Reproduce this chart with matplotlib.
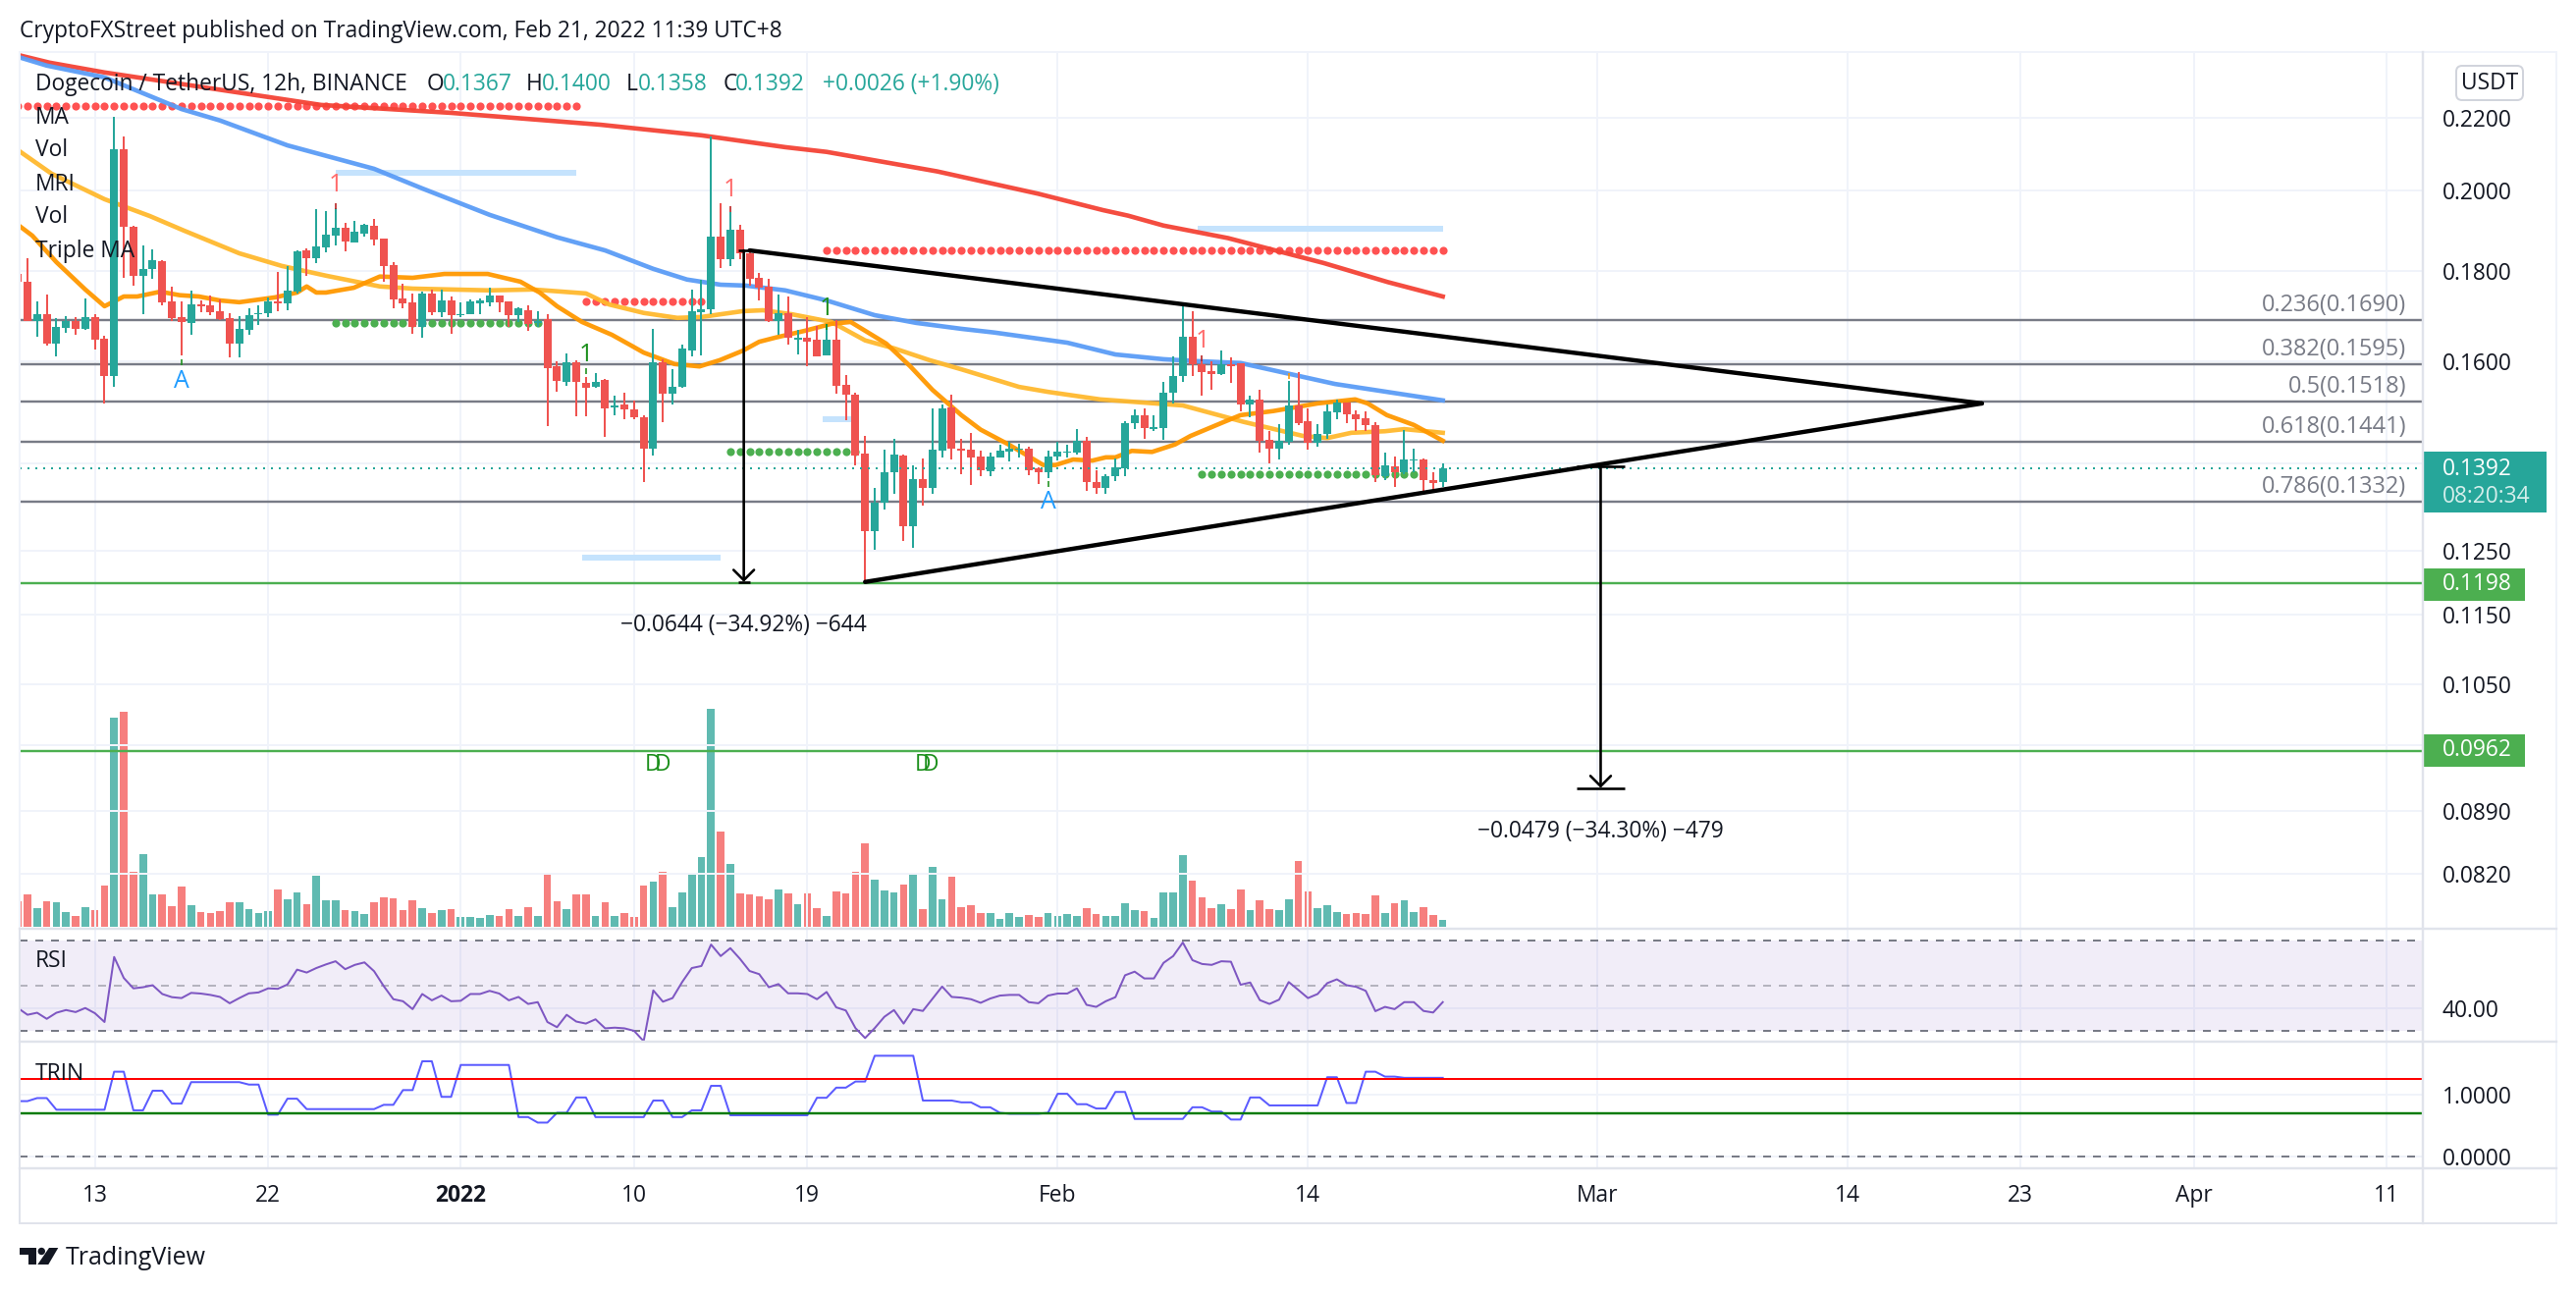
#!/usr/bin/env python3
"""Dogecoin / TetherUS 12h TradingView snapshot, redrawn from values read off the picture."""

from __future__ import annotations

import matplotlib

matplotlib.use("Agg")
import matplotlib.pyplot as plt
import numpy as np
from matplotlib.patches import Circle, FancyBboxPatch, Polygon, Rectangle
from matplotlib.ticker import NullLocator

W, H = 2624, 1316
PX = 0.72  # one pixel in points at dpi=100

UP = "#26a69a"
DOWN = "#ef5350"
INK = "#131722"
GREY = "#787b86"
GRID = "#f0f3fa"
EDGE = "#e0e3eb"

# 12h bars, first bar is clipped by the left edge of the pane
opens = [
    .1795, .1775, .1688, .1702, .1638, .1673, .1688, .1670, .1696, .1649,
    .1571, .2110, .1908, .1790, .1805, .1825, .1731, .1695, .1682, .1725,
    .1721, .1708, .1693, .1638, .1668, .1703, .1704, .1731, .1726, .1753,
    .1850, .1832, .1857, .1885, .1906, .1870, .1892, .1910, .1878, .1814,
    .1738, .1728, .1674, .1749, .1706, .1733, .1701, .1702, .1727, .1729,
    .1744, .1730, .1701, .1712, .1682, .1691, .1590, .1559, .1599, .1557,
    .1549, .1562, .1507, .1512, .1503, .1488, .1429, .1598, .1535, .1548,
    .1623, .1707, .1713, .1883, .1830, .1900, .1843, .1784, .1764, .1686,
    .1705, .1647, .1650, .1646, .1614, .1647, .1552, .1533, .1419, .1283,
    .1331, .1384, .1415, .1291, .1372, .1356, .1425, .1507, .1429, .1426,
    .1413, .1386, .1412, .1423, .1427, .1428, .1392, .1384, .1414, .1420,
    .1421, .1442, .1368, .1357, .1378, .1392, .1477, .1491, .1466, .1467,
    .1537, .1571, .1652, .1594, .1580, .1574, .1594, .1596, .1513, .1522,
    .1444, .1429, .1441, .1510, .1480, .1440, .1455, .1498, .1517, .1493,
    .1486, .1473, .1378, .1395, .1384, .1406, .1408, .1370, .1367,
]
highs = [
    .1800, .1831, .1730, .1747, .1694, .1698, .1695, .1738, .1702, .1655,
    .2203, .2146, .1911, .1862, .1852, .1826, .1765, .1731, .1756, .1733,
    .1744, .1735, .1705, .1698, .1715, .1721, .1739, .1798, .1813, .1850,
    .1855, .1952, .1947, .1955, .1917, .1922, .1915, .1927, .1878, .1821,
    .1771, .1749, .1753, .1758, .1758, .1741, .1728, .1735, .1738, .1762,
    .1744, .1730, .1718, .1722, .1708, .1703, .1600, .1618, .1602, .1569,
    .1577, .1565, .1530, .1537, .1520, .1492, .1670, .1605, .1584, .1636,
    .1758, .1780, .2146, .1968, .1946, .1913, .1846, .1796, .1783, .1746,
    .1743, .1668, .1695, .1677, .1681, .1690, .1573, .1536, .1452, .1357,
    .1426, .1446, .1417, .1397, .1410, .1505, .1513, .1532, .1446, .1457,
    .1425, .1420, .1435, .1441, .1437, .1431, .1393, .1424, .1441, .1435,
    .1465, .1450, .1389, .1381, .1410, .1481, .1503, .1506, .1491, .1558,
    .1610, .1729, .1708, .1600, .1600, .1623, .1608, .1597, .1530, .1542,
    .1461, .1475, .1560, .1578, .1506, .1475, .1513, .1522, .1517, .1501,
    .1499, .1478, .1420, .1413, .1464, .1428, .1410, .1385, .1400,
]
lows = [
    .1770, .1687, .1653, .1633, .1612, .1662, .1656, .1668, .1625, .1514,
    .1548, .1784, .1766, .1702, .1783, .1722, .1688, .1614, .1657, .1707,
    .1701, .1690, .1609, .1609, .1656, .1679, .1696, .1709, .1711, .1749,
    .1790, .1820, .1846, .1862, .1848, .1870, .1884, .1862, .1775, .1715,
    .1715, .1659, .1651, .1699, .1696, .1659, .1696, .1702, .1703, .1720,
    .1706, .1674, .1684, .1665, .1674, .1471, .1539, .1551, .1490, .1489,
    .1546, .1451, .1491, .1485, .1484, .1368, .1416, .1479, .1512, .1547,
    .1612, .1614, .1703, .1807, .1813, .1830, .1767, .1734, .1685, .1656,
    .1635, .1615, .1590, .1610, .1614, .1535, .1483, .1398, .1199, .1251,
    .1319, .1347, .1266, .1255, .1325, .1347, .1412, .1408, .1382, .1362,
    .1378, .1377, .1411, .1404, .1412, .1380, .1363, .1375, .1407, .1412,
    .1417, .1351, .1347, .1346, .1369, .1377, .1466, .1447, .1462, .1445,
    .1514, .1559, .1571, .1530, .1542, .1573, .1556, .1500, .1488, .1420,
    .1401, .1409, .1436, .1472, .1427, .1431, .1447, .1485, .1477, .1462,
    .1461, .1368, .1371, .1359, .1382, .1385, .1351, .1352, .1358,
]
closes = [
    .1775, .1688, .1702, .1638, .1674, .1688, .1670, .1695, .1647, .1571,
    .2110, .1907, .1790, .1805, .1826, .1728, .1694, .1684, .1725, .1720,
    .1706, .1691, .1638, .1669, .1701, .1705, .1731, .1727, .1755, .1848,
    .1832, .1860, .1888, .1906, .1872, .1895, .1912, .1876, .1813, .1736,
    .1727, .1674, .1749, .1706, .1732, .1700, .1703, .1730, .1732, .1744,
    .1729, .1701, .1715, .1680, .1688, .1586, .1561, .1598, .1559, .1547,
    .1559, .1506, .1510, .1503, .1487, .1429, .1598, .1535, .1549, .1627,
    .1708, .1714, .1883, .1830, .1900, .1842, .1783, .1763, .1688, .1705,
    .1650, .1650, .1643, .1611, .1646, .1550, .1533, .1415, .1283, .1331,
    .1385, .1417, .1291, .1372, .1356, .1426, .1506, .1429, .1425, .1412,
    .1388, .1413, .1424, .1429, .1429, .1389, .1384, .1413, .1422, .1423,
    .1442, .1368, .1357, .1378, .1393, .1476, .1491, .1467, .1469, .1537,
    .1571, .1652, .1594, .1578, .1575, .1595, .1590, .1512, .1522, .1442,
    .1429, .1442, .1510, .1477, .1440, .1455, .1499, .1517, .1493, .1485,
    .1472, .1379, .1398, .1384, .1408, .1408, .1370, .1365, .1392,
]

volumes = [
    64, 81, 47, 64, 62, 37, 27, 49, 42, 104,
    525, 540, 138, 183, 81, 81, 52, 101, 54, 37,
    35, 40, 62, 62, 45, 35, 40, 94, 69, 86,
    57, 128, 67, 67, 42, 40, 32, 62, 74, 72,
    42, 67, 47, 35, 42, 45, 25, 25, 22, 30,
    27, 45, 27, 49, 27, 133, 64, 45, 81, 81,
    27, 62, 27, 35, 25, 104, 114, 138, 49, 86,
    136, 175, 547, 239, 158, 84, 81, 77, 69, 94,
    84, 57, 84, 47, 27, 89, 84, 138, 210, 118,
    91, 86, 106, 131, 45, 151, 69, 126, 49, 54,
    35, 35, 20, 35, 25, 30, 25, 35, 27, 32,
    27, 47, 32, 27, 27, 59, 42, 40, 22, 86,
    86, 180, 116, 74, 47, 57, 45, 94, 42, 67,
    45, 42, 69, 165, 89, 47, 54, 37, 32, 35,
    32, 79, 35, 59, 67, 37, 49, 30, 17,
]

rsi = [
    40.1, 37.1, 38.0, 35.3, 38.0, 39.2, 38.3, 40.1, 37.8, 33.9,
    62.7, 53.4, 48.8, 49.3, 50.2, 46.3, 44.9, 44.5, 46.8, 46.5,
    45.9, 45.0, 42.2, 44.5, 46.6, 47.0, 48.8, 48.6, 50.5, 57.1,
    55.8, 57.8, 59.4, 60.8, 57.3, 59.2, 60.3, 56.4, 49.8, 44.0,
    43.1, 39.6, 46.3, 43.5, 45.6, 43.1, 43.3, 46.3, 46.3, 47.7,
    46.5, 43.5, 45.0, 41.9, 42.7, 33.9, 31.6, 37.1, 34.1, 33.2,
    35.1, 31.1, 31.4, 31.1, 30.0, 25.4, 47.9, 42.9, 44.5, 51.6,
    57.8, 58.7, 68.2, 63.1, 66.6, 61.9, 56.5, 55.1, 49.3, 50.7,
    46.6, 46.6, 46.3, 44.0, 47.2, 40.4, 39.0, 31.2, 26.8, 31.2,
    36.2, 39.2, 33.2, 39.6, 38.8, 44.2, 49.6, 45.0, 44.7, 44.0,
    42.4, 44.3, 45.6, 45.9, 45.9, 42.7, 42.2, 45.6, 46.5, 46.5,
    48.8, 41.5, 40.6, 43.1, 44.9, 54.6, 56.2, 53.2, 53.2, 60.1,
    63.1, 69.1, 61.3, 59.6, 59.2, 60.8, 60.6, 50.4, 51.4, 43.6,
    41.9, 43.8, 51.6, 48.1, 44.5, 46.3, 51.1, 52.8, 50.2, 49.5,
    47.7, 38.7, 40.6, 39.6, 42.7, 42.7, 38.8, 38.1, 42.7,
]

trin = [
    .90, .90, .95, .95, .76, .76, .76, .76, .76, .76,
    1.38, 1.38, .75, .75, 1.07, 1.07, .86, .86, 1.21, 1.21,
    1.21, 1.21, 1.21, 1.21, 1.17, 1.17, .68, .68, .94, .94,
    .77, .77, .77, .77, .77, .77, .77, .77, .84, .84,
    1.08, 1.08, 1.55, 1.55, .97, .97, 1.49, 1.49, 1.49, 1.49,
    1.49, 1.49, .64, .64, .55, .55, .71, .71, .96, .96,
    .64, .64, .64, .64, .64, .64, .91, .91, .64, .64,
    .75, .75, 1.15, 1.15, .67, .67, .67, .67, .67, .67,
    .67, .67, .67, .955, .955, 1.12, 1.12, 1.22, 1.22, 1.64,
    1.64, 1.64, 1.64, 1.64, .91, .91, .91, .91, .88, .88,
    .80, .80, .71, .695, .695, .695, .695, .71, 1.02, 1.02,
    .85, .85, .78, .78, 1.05, 1.05, .61, .61, .61, .61,
    .61, .61, .80, .80, .73, .73, .60, .60, .96, .96,
    .83, .83, .83, .83, .83, .83, 1.29, 1.29, .87, .87,
    1.38, 1.38, 1.30, 1.30, 1.28, 1.28, 1.28, 1.28, 1.28,
]

# moving averages, vertices as (bar, price)
ma200_bar = [-1, 2.3, 8, 30.5, 44, 59.5, 70, 78.7, 83, 94.5, 105, 111.7, 114.3, 118, 124.7, 134.6, 141.3, 147]
ma200 = [.2388, .2364, .2334, .2237, .2214, .2180, .2150, .2117, .2104, .2051, .1992, .1950, .1936, .1911, .1880, .1820, .1775, .1742]
ma100_bar = [-1, 2, 8, 16, 20, 27, 36, 41, 48, 55, 60, 65, 68.5, 72, 74.6, 78.7, 83, 88, 92.3, 97, 100.4, 108, 113, 118, 121.5, 126, 135.8, 147]
ma100 = [.2382, .2355, .2319, .2225, .2192, .2122, .2058, .2006, .1938, .1882, .1850, .1806, .1781, .1769, .1767, .1756, .1733, .1700, .1683, .1670, .1662, .1640, .1615, .1605, .1601, .1597, .1554, .1521]
ma50_bar = [-1, 2.5, 8, 12.7, 16.2, 22, 26.4, 31, 36.6, 40, 48, 52.5, 58, 60.4, 64, 67.5, 70, 74.3, 76.4, 79.4, 83.5, 87, 90, 93.7, 97, 103, 106, 111.4, 120, 126.3, 132.5, 135, 137.5, 141, 143, 147]
ma50 = [.2109, .2045, .1978, .1935, .1899, .1843, .1813, .1790, .1765, .1760, .1756, .1758, .1749, .1724, .1705, .1694, .1696, .1709, .1711, .1702, .1685, .1645, .1628, .1603, .1584, .1548, .1538, .1523, .1511, .1479, .1452, .1448, .1458, .1461, .1465, .1458]
ma20_bar = [-1, 0.5, 3, 6, 8, 10, 11.4, 13.8, 15.8, 17.8, 20, 22, 25.7, 28, 29, 30, 31, 33.9, 36.6, 40, 43.3, 47.8, 51.2, 53.2, 55, 57.6, 60.7, 62.7, 64, 67.2, 69.8, 71.9, 74.3, 76, 77.7, 80.8, 83.5, 85.5, 89.2, 91.7, 94, 97, 99, 101.9, 105.5, 106.8, 108.6, 110.6, 112, 113, 114.7, 116.8, 119.2, 120.8, 124.3, 126, 129.4, 134, 137.9, 139.2, 141.2, 144, 147]
ma20 = [.1913, .1886, .1822, .1758, .1720, .1742, .1742, .1753, .1745, .1742, .1733, .1729, .1740, .1751, .1765, .1751, .1751, .1762, .1788, .1785, .1794, .1794, .1776, .1751, .1720, .1685, .1657, .1634, .1619, .1595, .1590, .1603, .1623, .1642, .1651, .1666, .1681, .1685, .1638, .1590, .1542, .1492, .1464, .1436, .1398, .1398, .1408, .1406, .1412, .1412, .1424, .1422, .1436, .1452, .1479, .1492, .1500, .1515, .1523, .1515, .1492, .1473, .1443]

# fibonacci retracement
fib_ratio = ["0.236", "0.382", "0.5", "0.618", "0.786"]
fib_price = [.1690, .1595, .1518, .1441, .1332]
support_price = [.1198, .0962]
last_price = .1392

# triangle and measure tools
upper_trend_bar = [75, 203]
upper_trend_price = [.1850, .1515]
lower_trend_bar = [87, 203]
lower_trend_price = [.1200, .1515]
measure_bar = [74.4, 163.4]
measure_from = [.1850, .1396]
measure_to = [.1200, .0917]
measure_text = ["\u22120.0644 (\u221234.92%) \u2212644", "\u22120.0479 (\u221234.30%) \u2212479"]

# dotted levels and pale bars of the indicators
red_dot_start = [-1, 58, 83]
red_dot_end = [57, 70, 147]
red_dot_price = [.2233, .1730, .1850]
green_dot_start = [32, 73, 122]
green_dot_end = [53, 86, 144]
green_dot_price = [.1682, .1423, .1381]
pale_start = [32, 57.6, 82.6, 121.5]
pale_end = [57, 72, 85.6, 147]
pale_price = [.2048, .1238, .1484, .1903]

# small signal marks: bar, price of the letter, price of the tick next to it
red_one_bar = [32, 73, 122]
red_one_price = [.2014, .2003, .1644]
red_tick_price = [.1959, .1953, .1606]
green_one_bar = [58, 83]
green_one_price = [.1615, .1715]
green_tick_price = [.1580, .1674]
a_bar = [16, 106]
a_price = [.1560, .1331]
a_tick_price = [.1598, .1364]
orange_tick_bar = [131]
orange_tick_price = [.1570]
dd_bar = [65, 66, 93, 93.8]
dd_price = [.0945, .0945, .0945, .0945]

price_ticks = [.22, .20, .18, .16, .14, .125, .115, .105, .097, .089, .082]
price_labels = ["0.2200", "0.2000", "0.1800", "0.1600", "", "0.1250", "0.1150", "0.1050", "", "0.0890", "0.0820"]
time_ticks = [7, 25, 45, 63, 81, 107, 133, 163, 189, 207, 225, 245]
time_labels = ["13", "22", "2022", "10", "19", "Feb", "14", "Mar", "14", "23", "Apr", "11"]

legend_names = ["MA", "Vol", "MRI", "Vol", "Triple MA"]

FS = 16.4
MARK_FS = 18


def axes_px(fig, left, top, right, bottom, zorder):
    ax = fig.add_axes([left / W, 1 - bottom / H, (right - left) / W, (bottom - top) / H], zorder=zorder)
    ax.patch.set_visible(False)
    for spine in ax.spines.values():
        spine.set_visible(False)
    return ax


def style_grid(ax):
    ax.set_xlim(-0.816, 248.8)
    ax.set_xticks(time_ticks)
    ax.tick_params(length=0, labelbottom=False, labelleft=False)
    ax.grid(True, color=GRID, lw=2 * PX, zorder=0)
    ax.set_axisbelow(True)


def draw_price_pane(ax):
    bars = np.arange(-1, 148)
    o, c = np.array(opens), np.array(closes)
    colors = [UP if up else DOWN for up in c >= o]
    ax.set_yscale("log")
    ax.set_ylim(.0763, .2397)
    style_grid(ax)
    ax.yaxis.tick_right()
    ax.set_yticks(price_ticks)
    ax.set_yticklabels(price_labels, fontsize=FS, color=INK)
    ax.yaxis.set_minor_locator(NullLocator())
    ax.tick_params(axis="y", length=0, pad=20 * PX, labelright=True)

    for price in fib_price:
        ax.axhline(price, color=GREY, lw=2.4 * PX, zorder=2)
    for price in support_price:
        ax.axhline(price, color="#4caf50", lw=2.4 * PX, zorder=2)

    for start, end, price in zip(pale_start, pale_end, pale_price, strict=True):
        ax.plot([start, end], [price, price], color="#c5e3fd", lw=6 * PX, solid_capstyle="butt", zorder=2.5)
    for start, end, price in zip(red_dot_start, red_dot_end, red_dot_price, strict=True):
        run = np.arange(start, end + 1)
        ax.plot(run, [price] * len(run), "o", color="#ff5252", ms=8.2 * PX, mew=0, zorder=3)
    for start, end, price in zip(green_dot_start, green_dot_end, green_dot_price, strict=True):
        run = np.arange(start, end + 1)
        ax.plot(run, [price] * len(run), "o", color="#4caf50", ms=8.2 * PX, mew=0, zorder=3)

    for xs, ys, color in [
        (ma200_bar, ma200, "#f44336"),
        (ma100_bar, ma100, "#5b9cf6"),
        (ma50_bar, ma50, "#ffb92e"),
        (ma20_bar, ma20, "#ff9800"),
    ]:
        ax.plot(xs, ys, color=color, lw=4.6 * PX, alpha=0.95, zorder=4, solid_joinstyle="round")

    ax.vlines(bars, lows, highs, colors=colors, lw=2 * PX, zorder=5, capstyle="butt")
    ax.vlines(bars, np.minimum(o, c), np.maximum(o, c), colors=colors, lw=8 * PX, zorder=5, capstyle="butt")
    ax.axhline(last_price, color=UP, lw=2 * PX, ls=(0, (1, 3)), zorder=5.5)

    for xs, ys in [(upper_trend_bar, upper_trend_price), (lower_trend_bar, lower_trend_price)]:
        ax.plot(xs, ys, color="black", lw=4.4 * PX, zorder=6, solid_capstyle="round")

    for bar, start, end, cap in zip(measure_bar, measure_from, measure_to, (12, 49), strict=True):
        ax.annotate("", xy=(bar, end), xytext=(bar, start), zorder=7, annotation_clip=False,
                    arrowprops=dict(arrowstyle="->,head_length=7.5,head_width=7.5", mutation_scale=1,
                                    color="black", lw=2.6 * PX, shrinkA=0, shrinkB=0))
        for price in (start, end):
            ax.plot(bar, price, marker="_", color="black", ms=cap * PX, mew=2.6 * PX, zorder=7)

    for bar, price, tick in zip(red_one_bar, red_one_price, red_tick_price, strict=True):
        ax.text(bar, price, "1", color="#ff6b6b", fontsize=MARK_FS, ha="center", va="center", zorder=8)
        ax.plot(bar, tick, marker="|", color="#b71c1c", ms=6 * PX, mew=1.6 * PX, zorder=8)
    for bar, price, tick in zip(green_one_bar, green_one_price, green_tick_price, strict=True):
        ax.text(bar, price, "1", color="#1b8f1b", fontsize=MARK_FS, ha="center", va="center", zorder=8)
        ax.plot(bar, tick, marker="|", color="#1b8f1b", ms=6 * PX, mew=1.6 * PX, zorder=8)
    for bar, price, tick in zip(a_bar, a_price, a_tick_price, strict=True):
        ax.text(bar, price, "A", color="#1e9bff", fontsize=MARK_FS, ha="center", va="center", zorder=8)
        ax.plot(bar, tick, marker="|", color="#1b8f1b", ms=6 * PX, mew=1.6 * PX, zorder=8)
    ax.plot(orange_tick_bar, orange_tick_price, "|", color="#ff9800", ms=6 * PX, mew=1.6 * PX, zorder=8)
    for bar, price in zip(dd_bar, dd_price, strict=True):
        ax.text(bar, price, "D", color="#1b8f1b", fontsize=FS, ha="center", va="center", zorder=8)

    for ratio, price in zip(fib_ratio, fib_price, strict=True):
        ax.annotate(f"{ratio}({price:.4f})", xy=(2451 / W, price), xycoords=("figure fraction", "data"),
                    xytext=(0, 3 * PX), textcoords="offset points", ha="right", va="bottom",
                    color=GREY, fontsize=FS + 0.5, zorder=8)
    for bar, price, label in zip(measure_bar, measure_to, measure_text, strict=True):
        ax.annotate(label, xy=(bar, price), xytext=(0, -44 * PX), textcoords="offset points",
                    ha="center", va="center", color=INK, fontsize=FS, zorder=8)


def draw_volume_pane(ax):
    bars = np.arange(-1, 148)
    colors = ["#60bab1" if c >= o else "#f67f7e" for o, c in zip(opens, closes, strict=True)]
    ax.bar(bars, volumes, width=0.78, color=colors, zorder=1)
    ax.set_xlim(-0.816, 248.8)
    ax.set_ylim(-5, 2196)
    ax.set_xticks([])
    ax.set_yticks([])


def draw_rsi_pane(ax):
    ax.set_ylim(25.2, 75.2)
    style_grid(ax)
    ax.set_yticks([40])
    ax.set_yticklabels(["40.00"], fontsize=FS, color=INK)
    ax.yaxis.tick_right()
    ax.tick_params(axis="y", length=0, pad=20 * PX, labelright=True)
    ax.axhspan(30, 70, color="#7e57c2", alpha=0.1, lw=0, zorder=1)
    ax.axhline(70, color=GREY, lw=2 * PX, ls=(0, (4, 4)), zorder=2)
    ax.axhline(50, color=GREY, lw=2 * PX, ls=(0, (4, 4)), alpha=0.5, zorder=2)
    ax.axhline(30, color=GREY, lw=2 * PX, ls=(0, (4, 4)), zorder=2)
    ax.plot(np.arange(-1, 148), rsi, color="#7e57c2", lw=2 * PX, zorder=3)


def draw_trin_pane(ax):
    ax.set_ylim(-.195, 1.87)
    style_grid(ax)
    ax.set_yticks([1, 0])
    ax.set_yticklabels(["1.0000", "0.0000"], fontsize=FS, color=INK)
    ax.yaxis.tick_right()
    ax.tick_params(axis="y", length=0, pad=20 * PX, labelright=True)
    ax.axhline(0, color=GREY, lw=2 * PX, ls=(0, (4, 4)), zorder=2)
    ax.plot(np.arange(-1, 148), trin, color="#5b5bff", lw=2 * PX, zorder=3)
    ax.axhline(1.26, color="#ff0000", lw=2 * PX, zorder=4)
    ax.axhline(.70, color="#007a00", lw=2.4 * PX, zorder=4)
    ax.set_xticklabels(time_labels, fontsize=FS, color=INK)
    ax.tick_params(axis="x", length=0, pad=16 * PX, labelbottom=True)
    ax.get_xticklabels()[2].set_fontweight("bold")


def draw_chrome(ax):
    ax.set_xlim(0, W)
    ax.set_ylim(H, 0)
    ax.axis("off")

    ax.add_patch(Rectangle((20, 53), 2584, 1193, fill=False, ec=GRID, lw=2 * PX))
    for y in (946, 1061, 1190):
        ax.plot([20, 2604], [y, y], color=EDGE, lw=2.4 * PX)
    ax.plot([2468, 2468], [53, 1246], color=EDGE, lw=2.4 * PX)
    ax.plot([20, 20], [946, 1246], color=EDGE, lw=2 * PX)
    ax.plot([20, 2604], [1246, 1246], color=EDGE, lw=2 * PX)

    ax.text(20, 32, "CryptoFXStreet published on TradingView.com, Feb 21, 2022 11:39 UTC+8",
            fontsize=FS, color=INK, va="center")

    ax.text(36, 86, "Dogecoin / TetherUS, 12h, BINANCE", fontsize=FS, color=INK, va="center")
    for x, letter, value_x, value in [(435, "O", 451, "0.1367"), (536, "H", 552, "0.1400"),
                                      (638, "L", 650, "0.1358"), (737, "C", 749, "0.1392")]:
        ax.text(x, 86, letter, fontsize=FS, color=INK, va="center")
        ax.text(value_x, 86, value, fontsize=FS, color=UP, va="center")
    ax.text(838, 86, "+0.0026 (+1.90%)", fontsize=FS, color=UP, va="center")

    for name, y in zip(legend_names, (120, 153, 188, 221, 256), strict=True):
        ax.text(36, y, name, fontsize=FS, color=INK, va="center")
    ax.text(36, 979, "RSI", fontsize=FS, color=INK, va="center")
    ax.text(36, 1094, "TRIN", fontsize=FS, color=INK, va="center")

    # price axis tags
    ax.add_patch(FancyBboxPatch((2502, 67), 68, 35, boxstyle="round,pad=0,rounding_size=6",
                                fc="white", ec="#d1d4dc", lw=2 * PX))
    ax.text(2536, 85, "USDT", fontsize=FS, color=INK, ha="center", va="center")
    ax.add_patch(Rectangle((2468, 460), 126, 62, fc=UP, ec="none"))
    ax.text(2488, 478, "0.1392", fontsize=FS, color="white", va="center")
    ax.text(2488, 506, "08:20:34", fontsize=FS, color="#d4eeeb", va="center")
    for top, label in [(578.5, "0.1198"), (748, "0.0962")]:
        ax.add_patch(Rectangle((2468, top), 104, 33, fc="#4caf50", ec="none"))
        ax.text(2488, top + 16.5, label, fontsize=FS, color="white", va="center")

    # TradingView logo
    ax.add_patch(Polygon([(20, 1271), (37, 1271), (37, 1288), (29, 1288), (29, 1278), (20, 1278)], fc=INK, ec="none"))
    ax.add_patch(Circle((42.3, 1274.5), 3.7, fc=INK, ec="none"))
    ax.add_patch(Polygon([(50, 1271), (59.3, 1271), (49.3, 1288), (38.3, 1288)], fc=INK, ec="none"))
    ax.text(67, 1282, "TradingView", fontsize=18, color=INK, va="center")


def main():
    plt.rcParams["font.family"] = ["Open Sans", "DejaVu Sans"]
    fig = plt.figure(figsize=(W / 100, H / 100), dpi=100, facecolor="white")

    volume_ax = axes_px(fig, 20, 53, 2468, 946, zorder=1)
    price_ax = axes_px(fig, 20, 53, 2468, 946, zorder=2)
    rsi_ax = axes_px(fig, 20, 946, 2468, 1061, zorder=2)
    trin_ax = axes_px(fig, 20, 1061, 2468, 1190, zorder=2)
    chrome_ax = axes_px(fig, 0, 0, W, H, zorder=10)

    draw_volume_pane(volume_ax)
    draw_price_pane(price_ax)
    draw_rsi_pane(rsi_ax)
    draw_trin_pane(trin_ax)
    draw_chrome(chrome_ax)

    fig.savefig("out.png", dpi=100)


if __name__ == "__main__":
    main()
